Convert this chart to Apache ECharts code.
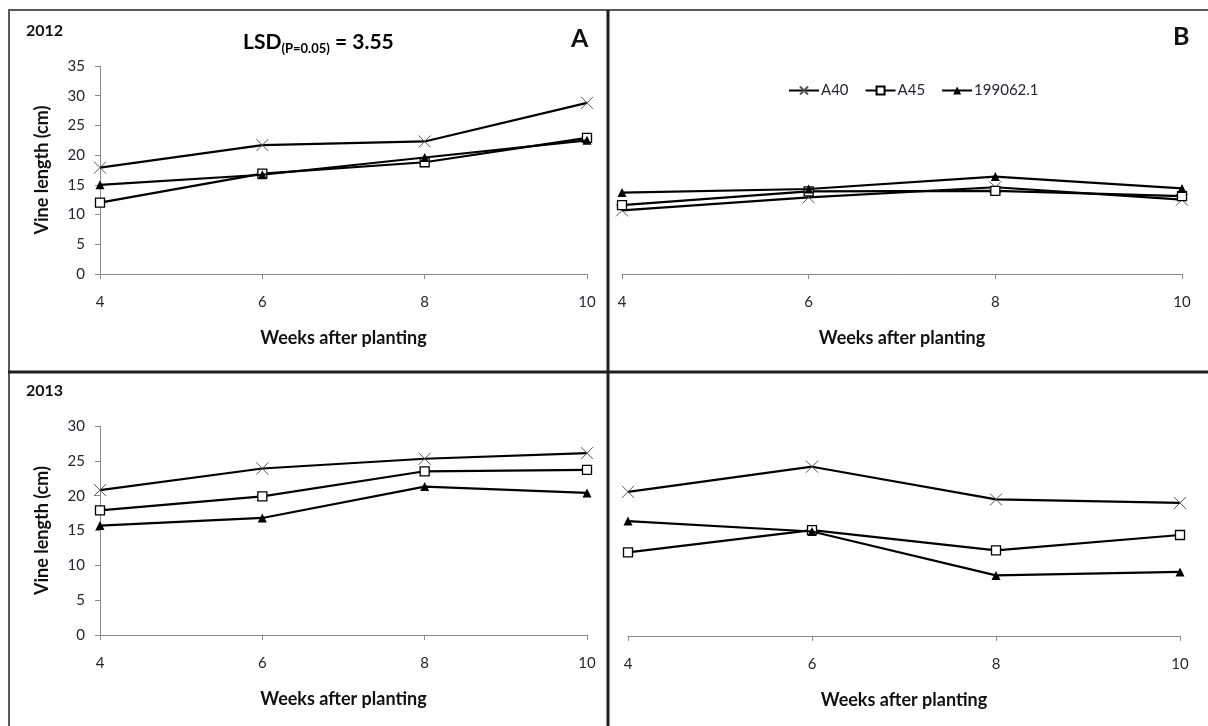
<!DOCTYPE html>
<html>
<head>
<meta charset="utf-8">
<script src="https://cdn.jsdelivr.net/npm/echarts@6/dist/echarts.min.js"></script>
<style>
  html, body { margin: 0; padding: 0; background: #fff; }
  #chart { width: 1208px; height: 726px; }
</style>
</head>
<body>
<div id="chart"></div>
<script>
// Weeks after planting (x categories)
const weeks = ['4', '6', '8', '10'];
const seriesNames = ['A40', 'A45', '199062.1'];

// 2012, panel A
const a40_2012A = [17.9, 21.7, 22.3, 28.8];
const a45_2012A = [12.0, 16.9, 18.8, 22.9];
const c199_2012A = [15.0, 16.7, 19.6, 22.5];

// 2012, panel B
const a40_2012B = [10.7, 12.9, 14.6, 12.5];
const a45_2012B = [11.6, 13.9, 14.0, 13.1];
const c199_2012B = [13.7, 14.3, 16.4, 14.4];

// 2013, panel A
const a40_2013A = [20.8, 23.9, 25.3, 26.1];
const a45_2013A = [17.9, 19.9, 23.5, 23.7];
const c199_2013A = [15.7, 16.8, 21.3, 20.4];

// 2013, panel B
const a40_2013B = [20.7, 24.3, 19.6, 19.1];
const a45_2013B = [12.0, 15.2, 12.3, 14.5];
const c199_2013B = [16.5, 15.0, 8.7, 9.2];

// y-axis ranges per year
const yMax2012 = 35;
const yMax2013 = 30;
const yStep = 5;

const FONT = 'Lato, "Open Sans", sans-serif';
const AXIS_GREY = '#8a8a8a';
const LABEL = '#262633';

const chart = echarts.init(document.getElementById('chart'), null, { renderer: 'canvas' });

const grids = [
  { left: 100, top: 66, width: 487, height: 208 },   // 2012 A
  { left: 622, top: 66, width: 560, height: 208 },   // 2012 B
  { left: 100, top: 426, width: 487, height: 209 },  // 2013 A
  { left: 628, top: 427, width: 552, height: 209 }   // 2013 B
];

const xAxes = grids.map((g, i) => ({
  type: 'category',
  gridIndex: i,
  data: weeks,
  boundaryGap: false,
  name: 'Weeks after planting',
  nameLocation: 'middle',
  nameGap: 55,
  nameTextStyle: { fontFamily: FONT, fontWeight: 'bold', fontSize: 18, color: '#111' },
  axisLine: { lineStyle: { color: AXIS_GREY, width: 1 } },
  axisTick: { show: true, inside: false, length: 5, lineStyle: { color: AXIS_GREY } },
  axisLabel: { fontFamily: FONT, fontSize: 15, color: LABEL, margin: 21 },
  splitLine: { show: false }
}));

function yAxis(i, max, visible) {
  return {
    type: 'value',
    gridIndex: i,
    min: 0,
    max: max,
    interval: yStep,
    name: visible ? 'Vine length (cm)' : '',
    nameLocation: 'middle',
    nameRotate: 90,
    nameGap: 49,
    nameTextStyle: { fontFamily: FONT, fontWeight: 'bold', fontSize: 18, color: '#111' },
    axisLine: { show: visible, lineStyle: { color: AXIS_GREY, width: 1 } },
    axisTick: { show: visible, length: 5, lineStyle: { color: AXIS_GREY } },
    axisLabel: { show: visible, fontFamily: FONT, fontSize: 15, color: LABEL, margin: 15 },
    splitLine: { show: false }
  };
}

const yAxes = [
  yAxis(0, yMax2012, true),
  yAxis(1, yMax2012, false),
  yAxis(2, yMax2013, true),
  yAxis(3, yMax2013, false)
];

// marker styles for each genotype
const styles = {
  'A40': {
    symbol: 'path://M0,0L10,10M10,0L0,10',
    symbolSize: 12,
    itemStyle: { color: '#fff', borderColor: '#555', borderWidth: 1 }
  },
  'A45': {
    symbol: 'rect',
    symbolSize: 9,
    itemStyle: { color: '#fff', borderColor: '#000', borderWidth: 1.3 }
  },
  '199062.1': {
    symbol: 'triangle',
    symbolSize: 9,
    itemStyle: { color: '#000', borderWidth: 0 }
  }
};

const panelData = [
  [a40_2012A, a45_2012A, c199_2012A],
  [a40_2012B, a45_2012B, c199_2012B],
  [a40_2013A, a45_2013A, c199_2013A],
  [a40_2013B, a45_2013B, c199_2013B]
];

const series = [];
panelData.forEach((set, p) => {
  set.forEach((values, k) => {
    const name = seriesNames[k];
    const st = styles[name];
    series.push({
      type: 'line',
      name: name,
      xAxisIndex: p,
      yAxisIndex: p,
      data: values,
      symbol: st.symbol,
      symbolSize: st.symbolSize,
      showAllSymbol: true,
      itemStyle: st.itemStyle,
      lineStyle: { color: '#000', width: 2.2 },
      emphasis: { disabled: true },
      z: 3 + k
    });
  });
});

// panel frame lines and panel labels
const frameColor = '#5a5a5a';
const dividerColor = '#1e1e1e';
const graphic = [
  { type: 'line', shape: { x1: 8, y1: 10, x2: 1208, y2: 10 }, style: { stroke: frameColor, lineWidth: 2 } },
  { type: 'line', shape: { x1: 9, y1: 10, x2: 9, y2: 726 }, style: { stroke: frameColor, lineWidth: 2 } },
  { type: 'line', shape: { x1: 608, y1: 10, x2: 608, y2: 726 }, style: { stroke: dividerColor, lineWidth: 3 } },
  { type: 'line', shape: { x1: 8, y1: 372, x2: 1208, y2: 372 }, style: { stroke: dividerColor, lineWidth: 3 } },
  { type: 'text', left: 26, top: 23, style: { text: '2012', font: 'bold 16px ' + FONT, fill: '#111' } },
  { type: 'text', left: 26, top: 383, style: { text: '2013', font: 'bold 16px ' + FONT, fill: '#111' } },
  { type: 'text', left: 571, top: 26, style: { text: 'A', font: 'bold 25px ' + FONT, fill: '#111' } },
  { type: 'text', left: 1173, top: 24, style: { text: 'B', font: 'bold 25px ' + FONT, fill: '#111' } },
  {
    type: 'text',
    left: 243,
    top: 32,
    style: {
      text: '{a|LSD}{b|(P=0.05)}{a| = 3.55}',
      rich: {
        a: { fontFamily: FONT, fontWeight: 'bold', fontSize: 21, lineHeight: 25, color: '#111' },
        b: { fontFamily: FONT, fontWeight: 'bold', fontSize: 13, lineHeight: 13, verticalAlign: 'bottom', color: '#111' }
      }
    }
  }
];

chart.setOption({
  animation: false,
  backgroundColor: '#fff',
  grid: grids,
  xAxis: xAxes,
  yAxis: yAxes,
  legend: {
    data: seriesNames,
    left: 783,
    top: 78,
    itemWidth: 30,
    itemHeight: 10,
    itemGap: 16,
    selectedMode: false,
    textStyle: { fontFamily: FONT, fontSize: 15, color: LABEL, padding: [0, 0, 0, -3] }
  },
  graphic: graphic,
  series: series
});
</script>
</body>
</html>
